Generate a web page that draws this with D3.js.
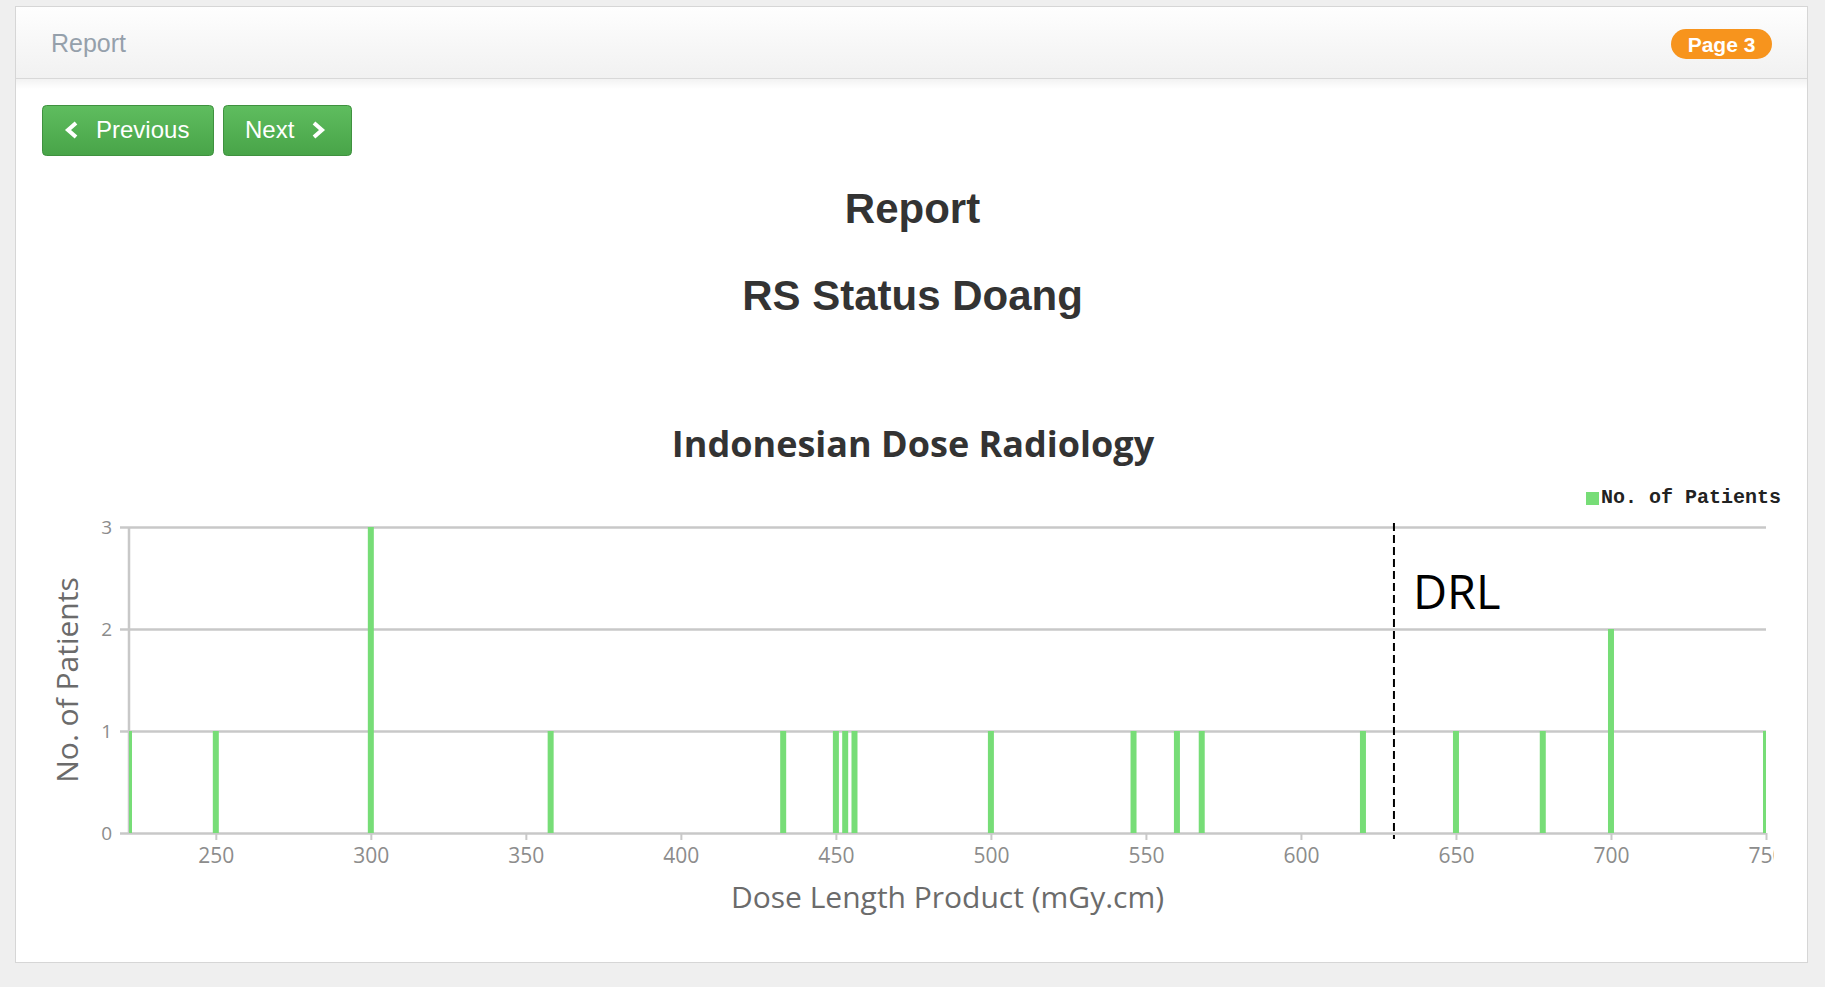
<!DOCTYPE html>
<meta charset="UTF-8">

<head>
    <script src="https://cdn.jsdelivr.net/npm/d3@7"></script>
    <style>
        body {
            margin: 0;
            background: #efefef;
        }

        .page text {
            font-family: "Liberation Sans", Arial, sans-serif;
        }

        .chart text {
            font-family: "Open Sans", sans-serif;
        }

        .grid .tick line {
            stroke: #c8c8c8;
            stroke-width: 2.5px;
        }

        .grid .tick text,
        .xaxis .tick text {
            fill: #8c8c8c;
        }

        .xaxis .tick line {
            stroke: #c8c8c8;
            stroke-width: 2px;
        }

        .bar {
            fill: #77dd77;
        }
    </style>
</head>

<body>

    <script>
        // Dose Length Product values (mGy.cm) and how many patients got each
        var doseValues = [222, 250, 300, 358, 433, 450, 453, 456, 500, 546, 560, 568, 620, 650, 678, 700, 750];
        var patientCounts = [1, 1, 3, 1, 1, 1, 1, 1, 1, 1, 1, 1, 1, 1, 1, 2, 1];

        // axis ticks
        var xTicks = [250, 300, 350, 400, 450, 500, 550, 600, 650, 700, 750];
        var yTicks = [0, 1, 2, 3];

        // diagnostic reference level marker
        var drlValue = 630;

        var data = doseValues.map(function (d, i) {
            return { dose: d, count: patientCounts[i] };
        });

        var W = 1825,
            H = 987;

        var svg = d3
            .select("body")
            .append("svg")
            .attr("width", W)
            .attr("height", H);

        var defs = svg.append("defs");

        var headGrad = defs.append("linearGradient")
            .attr("id", "headGrad")
            .attr("x1", 0).attr("y1", 0).attr("x2", 0).attr("y2", 1);
        headGrad.append("stop").attr("offset", "0%").attr("stop-color", "#fefefe");
        headGrad.append("stop").attr("offset", "100%").attr("stop-color", "#f1f1f1");

        var shadowGrad = defs.append("linearGradient")
            .attr("id", "shadowGrad")
            .attr("x1", 0).attr("y1", 0).attr("x2", 0).attr("y2", 1);
        shadowGrad.append("stop").attr("offset", "0%").attr("stop-color", "#000").attr("stop-opacity", 0.05);
        shadowGrad.append("stop").attr("offset", "100%").attr("stop-color", "#000").attr("stop-opacity", 0);

        var btnGrad = defs.append("linearGradient")
            .attr("id", "btnGrad")
            .attr("x1", 0).attr("y1", 0).attr("x2", 0).attr("y2", 1);
        btnGrad.append("stop").attr("offset", "0%").attr("stop-color", "#5fbd5f");
        btnGrad.append("stop").attr("offset", "100%").attr("stop-color", "#48a448");

        // ****************** page / panel ***************************

        var page = svg.append("g").attr("class", "page");

        page.append("rect")
            .attr("x", 15.5).attr("y", 6.5)
            .attr("width", 1792).attr("height", 956)
            .attr("fill", "#fff")
            .attr("stroke", "#d6d6d6");

        page.append("rect")
            .attr("x", 16).attr("y", 7)
            .attr("width", 1791).attr("height", 71)
            .attr("fill", "url(#headGrad)");

        page.append("rect")
            .attr("x", 16).attr("y", 79)
            .attr("width", 1791).attr("height", 10)
            .attr("fill", "url(#shadowGrad)");

        page.append("line")
            .attr("x1", 16).attr("x2", 1807)
            .attr("y1", 78.5).attr("y2", 78.5)
            .attr("stroke", "#d8d8d8");

        page.append("text")
            .attr("x", 51).attr("y", 52)
            .style("font-size", "25px")
            .attr("fill", "#95a0ab")
            .text("Report");

        // page badge
        page.append("rect")
            .attr("x", 1671).attr("y", 29)
            .attr("width", 101).attr("height", 30)
            .attr("rx", 15)
            .attr("fill", "#f7941d");

        page.append("text")
            .attr("x", 1721.5).attr("y", 52)
            .attr("text-anchor", "middle")
            .style("font-size", "21px")
            .style("font-weight", "bold")
            .attr("fill", "#fff")
            .text("Page 3");

        // Previous / Next buttons
        var buttons = [
            { label: "Previous", x: 42, w: 171, tx: 96, dir: -1, cx: 72 },
            { label: "Next", x: 223, w: 128, tx: 245, dir: 1, cx: 318 }
        ];

        var btn = page.selectAll("g.btn")
            .data(buttons)
            .enter()
            .append("g")
            .attr("class", "btn");

        btn.append("rect")
            .attr("x", function (d) { return d.x + 0.5; })
            .attr("y", 105.5)
            .attr("width", function (d) { return d.w; })
            .attr("height", 50)
            .attr("rx", 4)
            .attr("fill", "url(#btnGrad)")
            .attr("stroke", "#3f913f");

        btn.append("text")
            .attr("x", function (d) { return d.tx; })
            .attr("y", 138)
            .style("font-size", "24px")
            .attr("fill", "#fff")
            .text(function (d) { return d.label; });

        btn.append("path")
            .attr("d", function (d) {
                var a = d.cx - d.dir * 4,
                    b = d.cx + d.dir * 4;
                return "M" + a + ",123 L" + b + ",130 L" + a + ",137";
            })
            .attr("fill", "none")
            .attr("stroke", "#fff")
            .attr("stroke-width", 4);

        page.append("text")
            .attr("x", 912.5).attr("y", 223)
            .attr("text-anchor", "middle")
            .style("font-size", "42px")
            .style("font-weight", "bold")
            .attr("fill", "#333")
            .text("Report");

        page.append("text")
            .attr("x", 912.5).attr("y", 310)
            .attr("text-anchor", "middle")
            .style("font-size", "42px")
            .style("font-weight", "bold")
            .attr("fill", "#333")
            .text("RS Status Doang");

        // ****************** chart ***************************

        var margin = { top: 527, left: 129 },
            width = 1766 - 129,
            height = 833 - 527;

        // the chart box cuts off at the right, like the "75" of the last tick
        var chartBox = svg.append("svg")
            .attr("class", "chart")
            .attr("width", 1774)
            .attr("height", H);

        chartBox.append("text")
            .attr("x", 913).attr("y", 457)
            .attr("text-anchor", "middle")
            .style("font-size", "36px")
            .style("font-weight", "bold")
            .attr("fill", "#333")
            .text("Indonesian Dose Radiology");

        var x = d3.scaleLinear()
            .domain([d3.min(doseValues), d3.max(doseValues)])
            .range([0, width]);

        var y = d3.scaleLinear()
            .domain([0, d3.max(yTicks)])
            .range([height, 0]);

        var g = chartBox.append("g")
            .attr("transform", "translate(" + margin.left + "," + margin.top + ")");

        defs.append("clipPath")
            .attr("id", "plotClip")
            .append("rect")
            .attr("x", 0).attr("y", -10)
            .attr("width", width).attr("height", height + 10);

        // horizontal grid lines with the y tick labels
        g.append("g")
            .attr("class", "grid")
            .attr("transform", "translate(-9,0)")
            .call(d3.axisLeft(y)
                .tickValues(yTicks)
                .tickFormat(d3.format("d"))
                .tickSize(-(width + 9))
                .tickPadding(8))
            .call(function (s) { s.select(".domain").remove(); })
            .selectAll("text")
            .style("font-size", "19px");

        // y axis line
        g.append("line")
            .attr("x1", 0).attr("x2", 0)
            .attr("y1", 0).attr("y2", height)
            .attr("stroke", "#c8c8c8")
            .attr("stroke-width", 2.5);

        // x axis
        g.append("g")
            .attr("class", "xaxis")
            .attr("transform", "translate(0," + height + ")")
            .call(d3.axisBottom(x)
                .tickValues(xTicks)
                .tickSize(7)
                .tickPadding(8))
            .call(function (s) { s.select(".domain").remove(); })
            .selectAll("text")
            .style("font-size", "21px");

        // bars
        g.append("g")
            .attr("clip-path", "url(#plotClip)")
            .selectAll("rect.bar")
            .data(data)
            .enter()
            .append("rect")
            .attr("class", "bar")
            .attr("x", function (d) { return x(d.dose) - 3; })
            .attr("width", 6)
            .attr("y", function (d) { return y(d.count); })
            .attr("height", function (d) { return y(0) - y(d.count); });

        // DRL marker
        g.append("line")
            .attr("x1", x(drlValue)).attr("x2", x(drlValue))
            .attr("y1", -4).attr("y2", height + 6)
            .attr("stroke", "#000")
            .attr("stroke-width", 2)
            .attr("stroke-dasharray", "8,4");

        g.append("text")
            .attr("x", x(drlValue) + 19)
            .attr("y", 82)
            .style("font-size", "47px")
            .attr("fill", "#000")
            .text("DRL");

        // axis titles
        chartBox.append("text")
            .attr("x", 947.5).attr("y", 908)
            .attr("text-anchor", "middle")
            .style("font-size", "30px")
            .attr("fill", "#6b6b6b")
            .text("Dose Length Product (mGy.cm)");

        chartBox.append("text")
            .attr("transform", "translate(78,680) rotate(-90)")
            .attr("text-anchor", "middle")
            .style("font-size", "30px")
            .attr("fill", "#6b6b6b")
            .text("No. of Patients");

        // legend (sits outside the clipped chart box)
        var legend = svg.append("g");

        legend.append("rect")
            .attr("class", "bar")
            .attr("x", 1586).attr("y", 492)
            .attr("width", 13).attr("height", 13);

        legend.append("text")
            .attr("x", 1601).attr("y", 503)
            .style("font-family", "'Liberation Mono', monospace")
            .style("font-size", "20px")
            .style("font-weight", "bold")
            .attr("fill", "#222")
            .text("No. of Patients");
    </script>

</body>
